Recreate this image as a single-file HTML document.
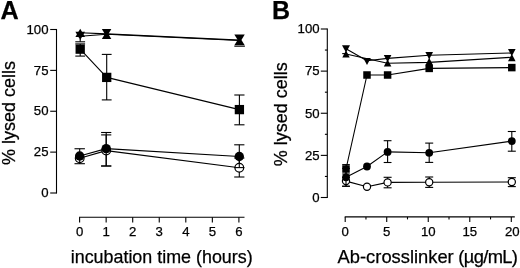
<!DOCTYPE html>
<html><head><meta charset="utf-8"><title>Figure</title>
<style>
html,body{margin:0;padding:0;background:#fff;}
body{width:520px;height:268px;overflow:hidden;}
svg{display:block;will-change:transform;}
svg text{font-family:"Liberation Sans", Arial, sans-serif;fill:#000;stroke:#000;stroke-width:0.25px;}
</style></head><body>
<svg width="520" height="268" viewBox="0 0 520 268">
<rect width="520" height="268" fill="#fff"/>
<line x1="56.50" y1="28.95" x2="56.50" y2="193.55" stroke="#000" stroke-width="1.1"/>
<line x1="50.20" y1="193.00" x2="56.50" y2="193.00" stroke="#000" stroke-width="1.1"/>
<text x="48.50" y="197.20" font-size="13.2" text-anchor="end" font-weight="normal" >0</text>
<line x1="50.20" y1="152.12" x2="56.50" y2="152.12" stroke="#000" stroke-width="1.1"/>
<text x="48.50" y="156.32" font-size="13.2" text-anchor="end" font-weight="normal" >25</text>
<line x1="50.20" y1="111.25" x2="56.50" y2="111.25" stroke="#000" stroke-width="1.1"/>
<text x="48.50" y="115.45" font-size="13.2" text-anchor="end" font-weight="normal" >50</text>
<line x1="50.20" y1="70.38" x2="56.50" y2="70.38" stroke="#000" stroke-width="1.1"/>
<text x="48.50" y="74.58" font-size="13.2" text-anchor="end" font-weight="normal" >75</text>
<line x1="50.20" y1="29.50" x2="56.50" y2="29.50" stroke="#000" stroke-width="1.1"/>
<text x="48.50" y="33.70" font-size="13.2" text-anchor="end" font-weight="normal" >100</text>
<line x1="79.00" y1="217.20" x2="244.50" y2="217.20" stroke="#000" stroke-width="1.1"/>
<line x1="79.60" y1="217.20" x2="79.60" y2="222.50" stroke="#000" stroke-width="1.1"/>
<text x="79.60" y="235.70" font-size="13.2" text-anchor="middle" font-weight="normal" >0</text>
<line x1="106.15" y1="217.20" x2="106.15" y2="222.50" stroke="#000" stroke-width="1.1"/>
<text x="106.15" y="235.70" font-size="13.2" text-anchor="middle" font-weight="normal" >1</text>
<line x1="132.70" y1="217.20" x2="132.70" y2="222.50" stroke="#000" stroke-width="1.1"/>
<text x="132.70" y="235.70" font-size="13.2" text-anchor="middle" font-weight="normal" >2</text>
<line x1="159.25" y1="217.20" x2="159.25" y2="222.50" stroke="#000" stroke-width="1.1"/>
<text x="159.25" y="235.70" font-size="13.2" text-anchor="middle" font-weight="normal" >3</text>
<line x1="185.80" y1="217.20" x2="185.80" y2="222.50" stroke="#000" stroke-width="1.1"/>
<text x="185.80" y="235.70" font-size="13.2" text-anchor="middle" font-weight="normal" >4</text>
<line x1="212.35" y1="217.20" x2="212.35" y2="222.50" stroke="#000" stroke-width="1.1"/>
<text x="212.35" y="235.70" font-size="13.2" text-anchor="middle" font-weight="normal" >5</text>
<line x1="238.90" y1="217.20" x2="238.90" y2="222.50" stroke="#000" stroke-width="1.1"/>
<text x="238.90" y="235.70" font-size="13.2" text-anchor="middle" font-weight="normal" >6</text>
<text x="161.70" y="262.80" font-size="17.9" text-anchor="middle" font-weight="normal" >incubation time (hours)</text>
<text transform="translate(15,113) rotate(-90)" font-size="18" text-anchor="middle">% lysed cells</text>
<text x="0.60" y="18.90" font-size="25.2" text-anchor="start" font-weight="bold" >A</text>
<polyline points="79.70,158.20 106.20,150.60 239.30,167.70" fill="none" stroke="#000" stroke-width="1.1" stroke-linejoin="round"/>
<line x1="79.70" y1="158.00" x2="79.70" y2="163.70" stroke="#000" stroke-width="1.1"/>
<line x1="106.20" y1="134.90" x2="106.20" y2="166.00" stroke="#000" stroke-width="1.1"/>
<line x1="101.10" y1="134.90" x2="111.30" y2="134.90" stroke="#000" stroke-width="1.1"/>
<line x1="101.10" y1="166.00" x2="111.30" y2="166.00" stroke="#000" stroke-width="1.1"/>
<line x1="239.30" y1="158.00" x2="239.30" y2="177.00" stroke="#000" stroke-width="1.1"/>
<line x1="234.20" y1="158.00" x2="244.40" y2="158.00" stroke="#000" stroke-width="1.1"/>
<line x1="234.20" y1="177.00" x2="244.40" y2="177.00" stroke="#000" stroke-width="1.1"/>
<circle cx="79.70" cy="158.20" r="4.35" fill="#fff" stroke="#000" stroke-width="1.2"/>
<circle cx="106.20" cy="150.60" r="4.35" fill="#fff" stroke="#000" stroke-width="1.2"/>
<circle cx="239.30" cy="167.70" r="4.35" fill="#fff" stroke="#000" stroke-width="1.2"/>
<polyline points="79.70,156.00 106.20,148.60 239.30,156.50" fill="none" stroke="#000" stroke-width="1.1" stroke-linejoin="round"/>
<line x1="79.70" y1="148.75" x2="79.70" y2="163.70" stroke="#000" stroke-width="1.1"/>
<line x1="74.50" y1="148.75" x2="84.90" y2="148.75" stroke="#000" stroke-width="1.1"/>
<line x1="74.50" y1="163.70" x2="84.90" y2="163.70" stroke="#000" stroke-width="1.1"/>
<line x1="106.20" y1="132.50" x2="106.20" y2="166.00" stroke="#000" stroke-width="1.1"/>
<line x1="101.10" y1="132.50" x2="111.30" y2="132.50" stroke="#000" stroke-width="1.1"/>
<line x1="101.10" y1="166.00" x2="111.30" y2="166.00" stroke="#000" stroke-width="1.1"/>
<line x1="239.30" y1="144.80" x2="239.30" y2="167.60" stroke="#000" stroke-width="1.1"/>
<line x1="234.20" y1="144.80" x2="244.40" y2="144.80" stroke="#000" stroke-width="1.1"/>
<line x1="234.20" y1="167.60" x2="244.40" y2="167.60" stroke="#000" stroke-width="1.1"/>
<circle cx="79.70" cy="156.00" r="4.70" fill="#000"/>
<circle cx="106.20" cy="148.60" r="4.70" fill="#000"/>
<circle cx="239.30" cy="156.50" r="4.70" fill="#000"/>
<polyline points="80.20,49.15 106.70,77.40 239.40,109.60" fill="none" stroke="#000" stroke-width="1.1" stroke-linejoin="round"/>
<line x1="80.20" y1="43.90" x2="80.20" y2="56.10" stroke="#000" stroke-width="1.1"/>
<line x1="75.30" y1="43.90" x2="85.10" y2="43.90" stroke="#000" stroke-width="1.1"/>
<line x1="75.30" y1="56.10" x2="85.10" y2="56.10" stroke="#000" stroke-width="1.1"/>
<line x1="106.70" y1="54.40" x2="106.70" y2="99.90" stroke="#000" stroke-width="1.1"/>
<line x1="101.80" y1="54.40" x2="111.60" y2="54.40" stroke="#000" stroke-width="1.1"/>
<line x1="101.80" y1="99.90" x2="111.60" y2="99.90" stroke="#000" stroke-width="1.1"/>
<line x1="239.40" y1="95.00" x2="239.40" y2="124.80" stroke="#000" stroke-width="1.1"/>
<line x1="234.30" y1="95.00" x2="244.50" y2="95.00" stroke="#000" stroke-width="1.1"/>
<line x1="234.30" y1="124.80" x2="244.50" y2="124.80" stroke="#000" stroke-width="1.1"/>
<rect x="75.55" y="44.50" width="9.30" height="9.30" fill="#000"/>
<rect x="102.05" y="72.75" width="9.30" height="9.30" fill="#000"/>
<rect x="234.75" y="104.95" width="9.30" height="9.30" fill="#000"/>
<polyline points="80.20,32.70 106.70,33.90 239.50,40.10" fill="none" stroke="#000" stroke-width="1.1" stroke-linejoin="round"/>
<polyline points="80.20,36.20 106.70,34.20 239.50,40.50" fill="none" stroke="#000" stroke-width="1.1" stroke-linejoin="round"/>
<line x1="80.20" y1="39.00" x2="80.20" y2="41.80" stroke="#000" stroke-width="1.1"/>
<line x1="75.30" y1="41.80" x2="85.10" y2="41.80" stroke="#000" stroke-width="1.1"/>
<line x1="234.30" y1="46.20" x2="244.90" y2="46.20" stroke="#000" stroke-width="1.1"/>
<polygon points="80.20,28.75 85.00,37.10 75.40,37.10" fill="#000"/>
<polygon points="75.40,31.80 85.00,31.80 80.20,40.00" fill="#000"/>
<polygon points="101.90,29.00 111.30,29.00 106.60,37.30" fill="#000"/>
<polygon points="106.60,30.80 111.30,39.10 101.90,39.10" fill="#000"/>
<polygon points="234.35,34.60 244.75,34.60 239.55,42.90" fill="#000"/>
<polygon points="239.55,36.90 244.75,45.20 234.35,45.20" fill="#000"/>
<line x1="327.30" y1="28.45" x2="327.30" y2="198.05" stroke="#000" stroke-width="1.1"/>
<line x1="320.80" y1="197.50" x2="327.30" y2="197.50" stroke="#000" stroke-width="1.1"/>
<text x="319.60" y="201.80" font-size="13.2" text-anchor="end" font-weight="normal" >0</text>
<line x1="320.80" y1="155.38" x2="327.30" y2="155.38" stroke="#000" stroke-width="1.1"/>
<text x="319.60" y="159.68" font-size="13.2" text-anchor="end" font-weight="normal" >25</text>
<line x1="320.80" y1="113.25" x2="327.30" y2="113.25" stroke="#000" stroke-width="1.1"/>
<text x="319.60" y="117.55" font-size="13.2" text-anchor="end" font-weight="normal" >50</text>
<line x1="320.80" y1="71.12" x2="327.30" y2="71.12" stroke="#000" stroke-width="1.1"/>
<text x="319.60" y="75.42" font-size="13.2" text-anchor="end" font-weight="normal" >75</text>
<line x1="320.80" y1="29.00" x2="327.30" y2="29.00" stroke="#000" stroke-width="1.1"/>
<text x="319.60" y="33.30" font-size="13.2" text-anchor="end" font-weight="normal" >100</text>
<line x1="324.90" y1="176.44" x2="327.30" y2="176.44" stroke="#000" stroke-width="1.1"/>
<line x1="324.90" y1="134.31" x2="327.30" y2="134.31" stroke="#000" stroke-width="1.1"/>
<line x1="324.90" y1="92.19" x2="327.30" y2="92.19" stroke="#000" stroke-width="1.1"/>
<line x1="324.90" y1="50.06" x2="327.30" y2="50.06" stroke="#000" stroke-width="1.1"/>
<line x1="344.70" y1="216.90" x2="514.80" y2="216.90" stroke="#000" stroke-width="1.1"/>
<line x1="345.20" y1="216.90" x2="345.20" y2="222.00" stroke="#000" stroke-width="1.1"/>
<text x="345.20" y="235.60" font-size="13.2" text-anchor="middle" font-weight="normal" >0</text>
<line x1="365.96" y1="216.90" x2="365.96" y2="219.40" stroke="#000" stroke-width="1.1"/>
<line x1="386.72" y1="216.90" x2="386.72" y2="222.00" stroke="#000" stroke-width="1.1"/>
<text x="386.72" y="235.60" font-size="13.2" text-anchor="middle" font-weight="normal" >5</text>
<line x1="407.49" y1="216.90" x2="407.49" y2="219.40" stroke="#000" stroke-width="1.1"/>
<line x1="428.25" y1="216.90" x2="428.25" y2="222.00" stroke="#000" stroke-width="1.1"/>
<text x="428.25" y="235.60" font-size="13.2" text-anchor="middle" font-weight="normal" >10</text>
<line x1="449.01" y1="216.90" x2="449.01" y2="219.40" stroke="#000" stroke-width="1.1"/>
<line x1="469.77" y1="216.90" x2="469.77" y2="222.00" stroke="#000" stroke-width="1.1"/>
<text x="469.77" y="235.60" font-size="13.2" text-anchor="middle" font-weight="normal" >15</text>
<line x1="490.54" y1="216.90" x2="490.54" y2="219.40" stroke="#000" stroke-width="1.1"/>
<line x1="511.30" y1="216.90" x2="511.30" y2="222.00" stroke="#000" stroke-width="1.1"/>
<text x="512.30" y="235.60" font-size="13.2" text-anchor="middle" font-weight="normal" >20</text>
<text x="337.60" y="262.80" font-size="18.34" text-anchor="start" font-weight="normal" >Ab-crosslinker</text>
<text x="458.30" y="262.80" font-size="18.34" text-anchor="start" font-weight="normal" letter-spacing="-0.65">(µg/mL)</text>
<text transform="translate(286.6,114.2) rotate(-90)" font-size="18" text-anchor="middle">% lysed cells</text>
<text x="271.90" y="18.90" font-size="25" text-anchor="start" font-weight="bold" >B</text>
<polyline points="346.00,181.10 367.00,186.80 387.60,182.40 429.20,182.30 511.80,182.00" fill="none" stroke="#000" stroke-width="1.1" stroke-linejoin="round"/>
<line x1="346.00" y1="177.30" x2="346.00" y2="186.30" stroke="#000" stroke-width="1.1"/>
<line x1="342.10" y1="177.30" x2="349.90" y2="177.30" stroke="#000" stroke-width="1.1"/>
<line x1="342.10" y1="186.30" x2="349.90" y2="186.30" stroke="#000" stroke-width="1.1"/>
<line x1="387.60" y1="177.30" x2="387.60" y2="187.80" stroke="#000" stroke-width="1.1"/>
<line x1="383.60" y1="177.30" x2="391.60" y2="177.30" stroke="#000" stroke-width="1.1"/>
<line x1="383.60" y1="187.80" x2="391.60" y2="187.80" stroke="#000" stroke-width="1.1"/>
<line x1="429.20" y1="177.00" x2="429.20" y2="187.40" stroke="#000" stroke-width="1.1"/>
<line x1="425.20" y1="177.00" x2="433.20" y2="177.00" stroke="#000" stroke-width="1.1"/>
<line x1="425.20" y1="187.40" x2="433.20" y2="187.40" stroke="#000" stroke-width="1.1"/>
<line x1="511.80" y1="177.70" x2="511.80" y2="186.60" stroke="#000" stroke-width="1.1"/>
<line x1="507.80" y1="177.70" x2="515.80" y2="177.70" stroke="#000" stroke-width="1.1"/>
<line x1="507.80" y1="186.60" x2="515.80" y2="186.60" stroke="#000" stroke-width="1.1"/>
<circle cx="346.00" cy="181.10" r="3.60" fill="#fff" stroke="#000" stroke-width="1.2"/>
<circle cx="367.00" cy="186.80" r="3.60" fill="#fff" stroke="#000" stroke-width="1.2"/>
<circle cx="387.60" cy="182.40" r="3.60" fill="#fff" stroke="#000" stroke-width="1.2"/>
<circle cx="429.20" cy="182.30" r="3.60" fill="#fff" stroke="#000" stroke-width="1.2"/>
<circle cx="511.80" cy="182.00" r="3.60" fill="#fff" stroke="#000" stroke-width="1.2"/>
<polyline points="346.00,177.30 367.00,166.50 387.60,151.90 429.20,152.80 511.80,141.10" fill="none" stroke="#000" stroke-width="1.1" stroke-linejoin="round"/>
<line x1="346.00" y1="168.40" x2="346.00" y2="186.20" stroke="#000" stroke-width="1.1"/>
<line x1="342.10" y1="168.40" x2="349.90" y2="168.40" stroke="#000" stroke-width="1.1"/>
<line x1="342.10" y1="186.20" x2="349.90" y2="186.20" stroke="#000" stroke-width="1.1"/>
<line x1="387.60" y1="140.70" x2="387.60" y2="162.50" stroke="#000" stroke-width="1.1"/>
<line x1="383.70" y1="140.70" x2="391.50" y2="140.70" stroke="#000" stroke-width="1.1"/>
<line x1="383.70" y1="162.50" x2="391.50" y2="162.50" stroke="#000" stroke-width="1.1"/>
<line x1="429.20" y1="143.10" x2="429.20" y2="162.40" stroke="#000" stroke-width="1.1"/>
<line x1="425.20" y1="143.10" x2="433.20" y2="143.10" stroke="#000" stroke-width="1.1"/>
<line x1="425.20" y1="162.40" x2="433.20" y2="162.40" stroke="#000" stroke-width="1.1"/>
<line x1="511.80" y1="131.50" x2="511.80" y2="151.20" stroke="#000" stroke-width="1.1"/>
<line x1="507.80" y1="131.50" x2="515.80" y2="131.50" stroke="#000" stroke-width="1.1"/>
<line x1="507.80" y1="151.20" x2="515.80" y2="151.20" stroke="#000" stroke-width="1.1"/>
<circle cx="346.00" cy="177.30" r="3.90" fill="#000"/>
<circle cx="367.00" cy="166.50" r="3.90" fill="#000"/>
<circle cx="387.60" cy="151.90" r="3.90" fill="#000"/>
<circle cx="429.20" cy="152.80" r="3.90" fill="#000"/>
<circle cx="511.80" cy="141.10" r="3.90" fill="#000"/>
<polyline points="346.00,169.00 367.00,75.00 387.60,75.00 429.20,68.40 511.80,67.60" fill="none" stroke="#000" stroke-width="1.1" stroke-linejoin="round"/>
<line x1="346.00" y1="164.60" x2="346.00" y2="174.00" stroke="#000" stroke-width="1.1"/>
<line x1="342.20" y1="164.60" x2="349.80" y2="164.60" stroke="#000" stroke-width="1.1"/>
<line x1="342.20" y1="174.00" x2="349.80" y2="174.00" stroke="#000" stroke-width="1.1"/>
<rect x="342.25" y="165.25" width="7.50" height="7.50" fill="#000"/>
<rect x="363.25" y="71.25" width="7.50" height="7.50" fill="#000"/>
<rect x="383.85" y="71.25" width="7.50" height="7.50" fill="#000"/>
<rect x="425.45" y="64.65" width="7.50" height="7.50" fill="#000"/>
<rect x="508.05" y="63.85" width="7.50" height="7.50" fill="#000"/>
<polyline points="346.00,48.80 367.00,60.80 387.60,58.40 429.20,55.20 511.80,53.00" fill="none" stroke="#000" stroke-width="1.1" stroke-linejoin="round"/>
<polyline points="346.00,54.00 387.60,63.20 429.20,62.40 511.80,57.30" fill="none" stroke="#000" stroke-width="1.1" stroke-linejoin="round"/>
<line x1="342.20" y1="53.60" x2="346.20" y2="53.60" stroke="#000" stroke-width="1.1"/>
<polygon points="342.00,45.20 350.00,45.20 346.00,52.60" fill="#000"/>
<polygon points="346.00,50.20 349.70,57.40 342.30,57.40" fill="#000"/>
<polygon points="363.20,58.00 370.80,58.00 367.00,65.00" fill="#000"/>
<polygon points="383.80,55.10 391.40,55.10 387.60,62.30" fill="#000"/>
<polygon points="387.60,59.40 391.40,66.60 383.80,66.60" fill="#000"/>
<polygon points="425.40,51.90 433.00,51.90 429.20,59.60" fill="#000"/>
<polygon points="429.20,57.80 433.00,65.20 425.40,65.20" fill="#000"/>
<polygon points="508.00,49.10 515.60,49.10 511.80,56.30" fill="#000"/>
<polygon points="511.80,54.00 515.60,61.20 508.00,61.20" fill="#000"/>
</svg>
</body></html>
